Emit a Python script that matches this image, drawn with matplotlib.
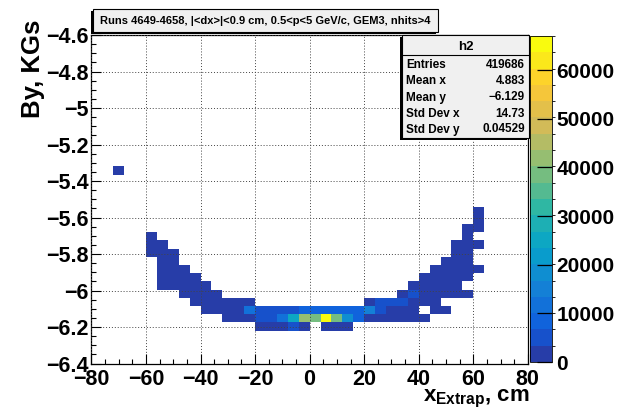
import numpy as np
import matplotlib
matplotlib.use("Agg")
import matplotlib.pyplot as plt
from matplotlib.colors import LinearSegmentedColormap, ListedColormap, BoundaryNorm
from matplotlib.patches import Rectangle
from matplotlib.lines import Line2D
from matplotlib.ticker import MultipleLocator, FuncFormatter

plt.rcParams['font.family'] = ['Liberation Sans', 'DejaVu Sans']
plt.rcParams['font.weight'] = 'bold'
plt.rcParams['mathtext.fontset'] = 'custom'
plt.rcParams['mathtext.rm'] = 'Liberation Sans:bold'
plt.rcParams['mathtext.it'] = 'Liberation Sans:bold'
plt.rcParams['mathtext.bf'] = 'Liberation Sans:bold'

# 2D histogram h2: 40 x 40 bins
x_edges = np.linspace(-80, 80, 41)
y_edges = np.linspace(-6.4, -4.6, 41)

# filled segments: y bin, first x bin, contents of consecutive x bins
seg_ybin = [4, 4, 5, 6, 6, 7, 7, 8, 8, 9, 9, 10, 10, 11, 11, 12, 12,
            13, 13, 14, 14, 15, 15, 16, 17, 18, 23]
seg_xbin = [15, 21, 12, 10, 31, 9, 25, 8, 28, 6, 29, 6, 30, 6, 31, 6, 32,
            5, 33, 5, 33, 5, 34, 34, 35, 35, 2]
seg_counts = [
    [900, 1200, 1700, 4000, 2600],
    [1500, 1300, 800],
    [600, 900, 2200, 5600, 6000, 11500, 24500, 43000, 38500, 67000, 39500,
     18000, 8800, 2800, 1500, 900, 600, 400, 300],
    [500, 700, 900, 1500, 10800, 5400, 5700, 5900, 6200, 8600, 9100, 9500,
     9200, 8900, 8300, 15500, 5200, 2200, 1200, 600],
    [300, 200],
    [400, 500, 600, 700, 800, 1000],
    [2500, 5000, 4800, 4500, 1800, 700, 400],
    [400, 500, 500, 400],
    [1500, 4200, 1500, 900, 600, 400, 300],
    [300, 350, 400, 450, 400],
    [700, 600, 500, 400, 300],
    [300, 350, 350, 300],
    [500, 450, 400, 300, 250],
    [300, 300, 250],
    [400, 350, 300, 250, 150],
    [300, 250],
    [300, 300, 250],
    [200, 300, 250],
    [300, 250],
    [250, 300],
    [200, 300, 150],
    [200],
    [250],
    [250, 200],
    [200],
    [150],
    [100],
]

stats_names = ["Entries", "Mean x", "Mean y", "Std Dev x", "Std Dev y"]
stats_values = ["419686", "4.883", "\u22126.129", "14.73", "0.04529"]
title = "Runs 4649-4658, |<dx>|<0.9 cm, 0.5<p<5 GeV/c, GEM3, nhits>4"
cbar_ticks = [0, 10000, 20000, 30000, 40000, 50000, 60000]

H = np.zeros((40, 40))
for j, i0, c in zip(seg_ybin, seg_xbin, seg_counts):
    H[j, i0:i0 + len(c)] = c
H = np.ma.masked_equal(H, 0)

# ROOT kBird palette, 20 contour levels
stops = [0.0, 0.125, 0.25, 0.375, 0.5, 0.625, 0.75, 0.875, 1.0]
red = [0.2082, 0.0592, 0.0780, 0.0232, 0.1802, 0.5301, 0.8186, 0.9956, 0.9764]
green = [0.1664, 0.3599, 0.5041, 0.6419, 0.7178, 0.7492, 0.7328, 0.7862, 0.9832]
blue = [0.5293, 0.8684, 0.8385, 0.7914, 0.6425, 0.4662, 0.3499, 0.1968, 0.0539]
bird = LinearSegmentedColormap.from_list(
    "bird", list(zip(stops, zip(red, green, blue))))
ndiv = 20
band_cols = [bird(int((k + 0.99) * 255 / ndiv) / 254) for k in range(ndiv)]
cmap = ListedColormap(band_cols)
levels = np.linspace(0, H.max(), ndiv + 1)
norm = BoundaryNorm(levels, ndiv)

W, Hpx = 624, 411
fig = plt.figure(figsize=(W / 100, Hpx / 100), dpi=100)


def fx(x):
    return x / W


def fy(y):
    return 1 - y / Hpx


ax = fig.add_axes([fx(91.4), fy(363.5), (527.8 - 91.4) / W, (363.5 - 35) / Hpx])
mesh = ax.pcolormesh(x_edges, y_edges, H, cmap=cmap, norm=norm,
                     edgecolors='none', antialiased=False, zorder=1)
ax.set_xlim(-80, 80)
ax.set_ylim(-6.4, -4.6)
ax.xaxis.set_major_locator(MultipleLocator(20))
ax.xaxis.set_minor_locator(MultipleLocator(5))
ax.yaxis.set_major_locator(MultipleLocator(0.2))
ax.yaxis.set_minor_locator(MultipleLocator(0.05))
fmt = FuncFormatter(lambda v, p: f"{round(v, 2):g}".replace("-", "\u2212"))
ax.xaxis.set_major_formatter(fmt)
ax.yaxis.set_major_formatter(fmt)
ax.tick_params(which='both', direction='in', top=False, right=False,
               labelsize=15.5, width=0.8)
ax.tick_params(which='major', length=7)
ax.tick_params(which='minor', length=3.5)
ax.tick_params(axis='x', pad=4)
ax.tick_params(axis='y', pad=2)
for lab in ax.get_xticklabels() + ax.get_yticklabels():
    lab.set_fontweight('bold')
ax.set_axisbelow(False)
ax.grid(True, which='major', color='#444444', linestyle=(0, (1, 2)), lw=0.7, zorder=2)
for s in ax.spines.values():
    s.set_linewidth(0.9)

# colour palette
cax = fig.add_axes([fx(530), fy(362), 22 / W, (362 - 36) / Hpx])
cb = fig.colorbar(mesh, cax=cax, ticks=cbar_ticks)
cb.outline.set_linewidth(0.6)
cax.tick_params(direction='in', length=11, width=0.9, labelsize=15, pad=3)
cax.set_yticklabels([str(t) for t in cbar_ticks], fontweight='bold')


def pave(x0, y0, x1, y1):
    fig.add_artist(Rectangle((fx(x0 - 2), fy(y1 + 2)), (x1 - x0) / W, (y1 - y0) / Hpx,
                             transform=fig.transFigure, facecolor='black',
                             edgecolor='none', zorder=5))
    fig.add_artist(Rectangle((fx(x0), fy(y1)), (x1 - x0) / W, (y1 - y0) / Hpx,
                             transform=fig.transFigure, facecolor='#f0f0f0',
                             edgecolor='black', lw=0.8, zorder=6))


# title box
pave(93, 9, 438, 32)
fig.text(fx(265.5), fy(20.5), title, ha='center', va='center', fontsize=8.0,
         fontweight='bold', zorder=7)

# stats box
pave(402, 35, 529, 138)
fig.add_artist(Line2D([fx(402), fx(529)], [fy(55), fy(55)], transform=fig.transFigure,
                      color='black', lw=0.8, zorder=7))
fig.text(fx(465.5), fy(46.5), "h2", ha='center', va='center', fontsize=9.5,
         fontweight='bold', zorder=7)
row_y = [64.5, 81, 97.5, 113.5, 129.5]
for name, val, yy in zip(stats_names, stats_values, row_y):
    fig.text(fx(406), fy(yy), name, ha='left', va='center', fontsize=8.5,
             fontweight='bold', zorder=7)
    fig.text(fx(525), fy(yy), val, ha='right', va='center', fontsize=8.5,
             fontweight='bold', zorder=7)

# axis titles
fig.text(fx(33), fy(20), "By, KGs", rotation=90, ha='center', va='top',
         fontsize=18.5, fontweight='bold')
fig.text(fx(530), fy(401), r"$x_{Extrap}$, cm", ha='right', va='baseline',
         fontsize=16, fontweight='bold')

fig.savefig("out.png", dpi=100)
